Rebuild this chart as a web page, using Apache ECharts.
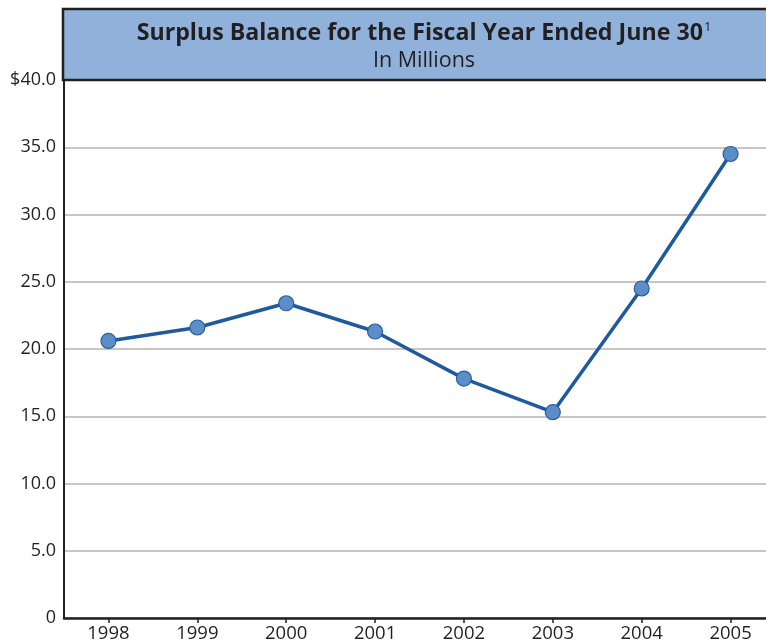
<!DOCTYPE html>
<html>
<head>
<meta charset="utf-8">
<script src="https://cdn.jsdelivr.net/npm/echarts@6/dist/echarts.min.js"></script>
<style>
html,body{margin:0;padding:0;background:#fff;overflow:hidden;width:766px;height:643px;}
#chart{width:775px;height:643px;}
</style>
</head>
<body>
<div id="chart"></div>
<script>
var years = ['1998','1999','2000','2001','2002','2003','2004','2005'];
var surplus = [20.6, 21.6, 23.4, 21.3, 17.8, 15.3, 24.5, 34.5];
var yTickValues = [0, 5, 10, 15, 20, 25, 30, 35, 40];
var yTickLabels = ['0', '5.0', '10.0', '15.0', '20.0', '25.0', '30.0', '35.0', '$40.0'];
var titleMain = 'Surplus Balance for the Fiscal Year Ended June 30';
var titleNote = '1';
var subtitle = 'In Millions';

var FONT = 'Open Sans';
var chart = echarts.init(document.getElementById('chart'), null, {renderer: 'canvas'});
var option = {
  backgroundColor: '#ffffff',
  animation: false,
  grid: {left: 64, top: 80, bottom: 25, right: 0, containLabel: false},
  xAxis: {
    type: 'category',
    data: years,
    boundaryGap: true,
    axisLine: {show: true, lineStyle: {color: '#231f20', width: 2.5}},
    axisTick: {show: true, alignWithLabel: true, length: 5, lineStyle: {color: '#231f20', width: 1.5}},
    axisLabel: {color: '#231f20', fontFamily: FONT, fontSize: 18.5, margin: 6},
    splitLine: {show: false}
  },
  yAxis: {
    type: 'value',
    min: 0, max: 40, interval: 5,
    axisLine: {show: true, lineStyle: {color: '#231f20', width: 2}},
    axisTick: {show: false},
    axisLabel: {
      color: '#231f20', fontFamily: FONT, fontSize: 18, margin: 8,
      formatter: function (v) { var i = yTickValues.indexOf(v); return i >= 0 ? yTickLabels[i] : ''; }
    },
    splitLine: {show: true, lineStyle: {color: '#c6c6c6', width: 2}}
  },
  series: [{
    type: 'line',
    data: surplus,
    symbol: 'circle',
    symbolSize: 15,
    lineStyle: {color: '#1f5a9e', width: 3.5},
    itemStyle: {color: '#5b8dc9', borderColor: '#2a5f9f', borderWidth: 1.2},
    z: 5
  }],
  graphic: [
    {
      type: 'rect', z: 100,
      shape: {x: 63, y: 9, width: 740, height: 71},
      style: {fill: '#90b2da', stroke: '#231f20', lineWidth: 2.5}
    },
    {
      type: 'text', z: 101, x: 424, y: 33,
      style: {
        text: '{t|' + titleMain + '}{s|' + titleNote + '}',
        align: 'center', verticalAlign: 'middle',
        rich: {
          t: {fontFamily: FONT, fontSize: 23.2, fontWeight: 'bold', fill: '#231f20'},
          s: {fontFamily: FONT, fontSize: 13, fill: '#231f20', verticalAlign: 'top', padding: [0,0,12,1]}
        }
      }
    },
    {
      type: 'text', z: 101, x: 424, y: 61,
      style: {text: subtitle, align: 'center', verticalAlign: 'middle', fontFamily: FONT, fontSize: 21.5, fill: '#231f20'}
    }
  ]
};
chart.setOption(option);
</script>
</body>
</html>
